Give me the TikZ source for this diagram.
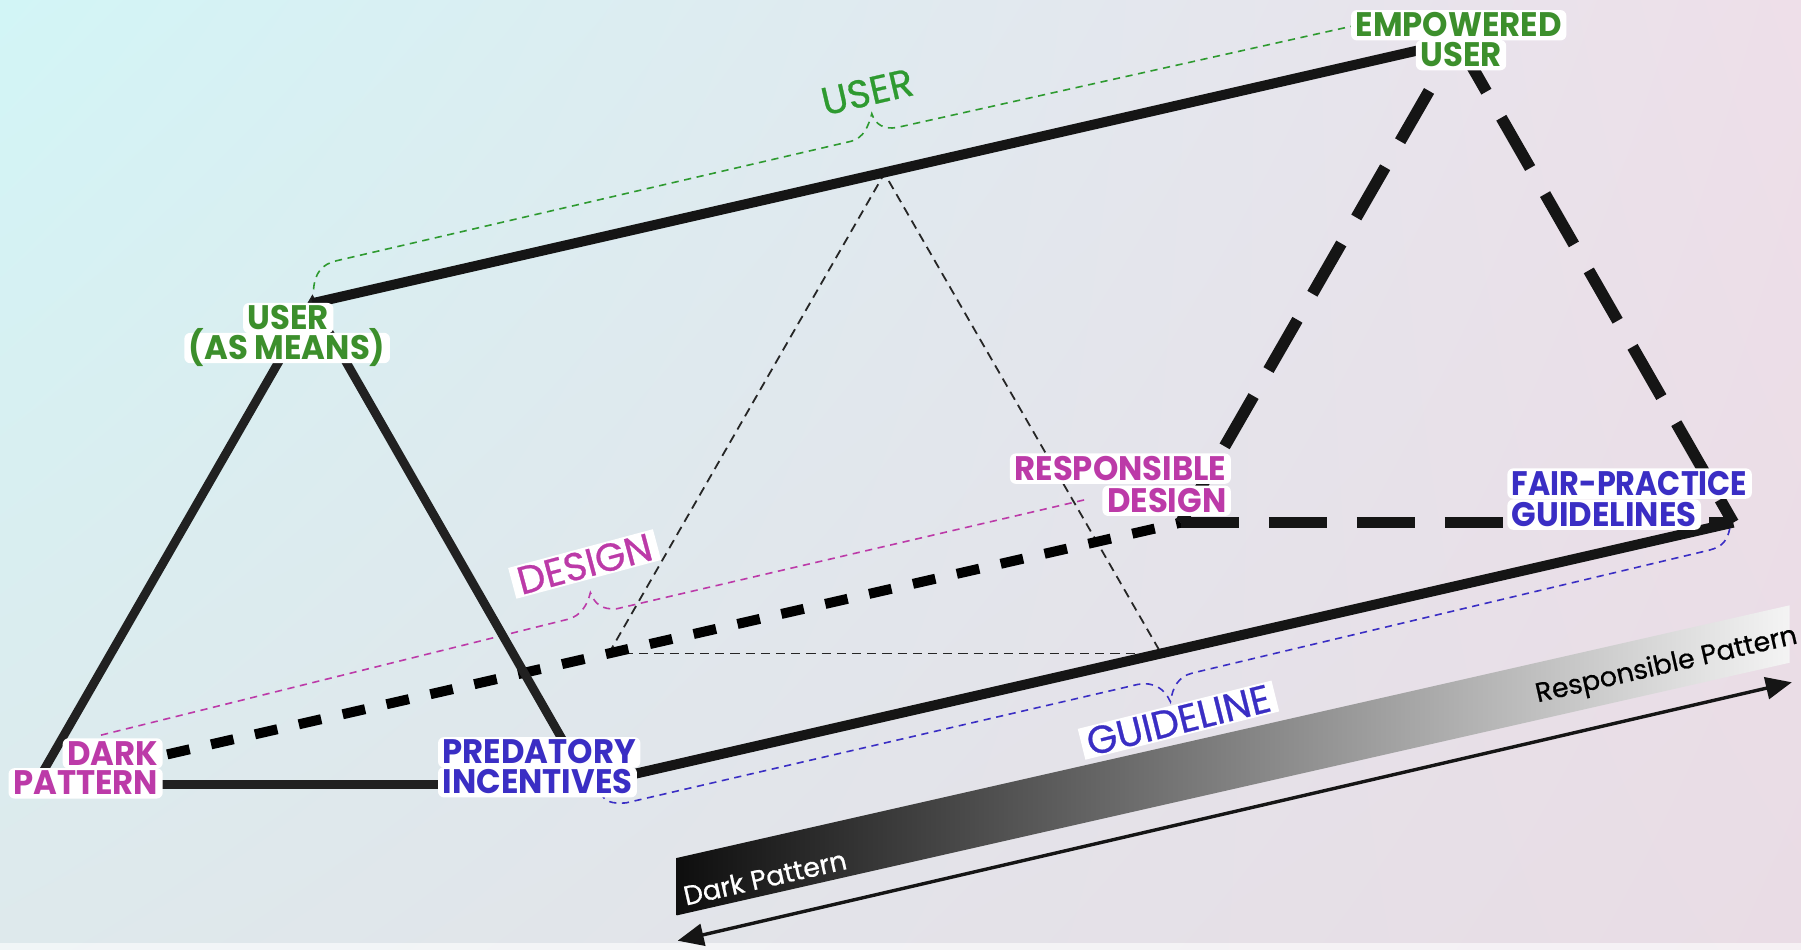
\documentclass[tikz,border=0pt]{standalone}
\usepackage{fontspec}
\usepackage{graphicx}
\usetikzlibrary{arrows.meta,shadings}
\newfontfamily\labfont{Poppins}
\newfontfamily\medfont{Poppins}[FakeBold=0.7]
\newcommand{\lb}[1]{\scalebox{0.95}[1]{#1}}
\newcommand{\lbn}[1]{\scalebox{0.89}[1]{#1}}
\definecolor{bgUL}{HTML}{D2F5F6}
\definecolor{bgUR}{HTML}{EEDFE9}
\definecolor{bgLL}{HTML}{DEE9EC}
\definecolor{bgLR}{HTML}{E9DCE5}
\definecolor{edgeblack}{HTML}{151515}
\definecolor{ugreen}{HTML}{3C8F2C}
\definecolor{lgreen}{HTML}{2E9A30}
\definecolor{umag}{HTML}{BC3AA8}
\definecolor{ublue}{HTML}{3A2EC4}
\definecolor{barblack}{HTML}{0E0E0E}
\definecolor{barwhite}{HTML}{F4F4F4}
\tikzset{
  sticker/.style={fill=white, rounded corners=3pt, inner xsep=2.3pt, inner ysep=1.2pt,
    text height=12.2pt, text depth=0.6pt,
    font=\labfont\bfseries\fontsize{17}{17}\selectfont},
  rlabel/.style={font=\medfont\fontsize{19.5}{19.5}\selectfont, inner xsep=3pt, inner ysep=1pt},
  bartext/.style={font=\medfont\fontsize{13.5}{13.5}\selectfont, rotate=12.8, inner sep=0pt},
  solidedge/.style={line width=5pt, draw=edgeblack},
  legedge/.style={line width=4.4pt, draw=edgeblack!95!white},
  fatdash/.style={line width=5pt, draw=black, dash pattern=on 11.5pt off 11pt},
  longdash/.style={line width=5.8pt, draw=edgeblack, dash pattern=on 29pt off 15pt},
  thindash/.style={line width=0.9pt, draw=black!85, dash pattern=on 4.6pt off 3pt},
  brace/.style={line width=0.8pt, dash pattern=on 3.6pt off 2.8pt, line cap=butt},
}
\begin{document}
\begin{tikzpicture}[x=0.5743pt,y=-0.5743pt]
\useasboundingbox (0,0) rectangle (1568,827);
% background
\shade[upper left=bgUL, upper right=bgUR, lower left=bgLL, lower right=bgLR] (0,0) rectangle (1568,827);
\fill[white, opacity=0.6] (0,821) rectangle (1568,827);

% prism vertices
\coordinate (UA) at (272,264);
\coordinate (DP) at (31,683);
\coordinate (PI) at (512,683);
\coordinate (EU) at (1269,36);
\coordinate (RD) at (1028,455);
\coordinate (FG) at (1509,455);
\coordinate (MT) at (770,151);
\coordinate (MB) at (530,569);
\coordinate (MR) at (1011,569);

% braces
\draw[brace, draw=lgreen] (273,252) .. controls (274,238) and (280,230) .. (293,227)
  -- (741,123) .. controls (752,120) and (756,110) .. (759,99)
  .. controls (762,108) and (769,113) .. (781,111) -- (1185,21);
\draw[brace, draw=umag] (88,640) -- (495,539) .. controls (505,536) and (511,528) .. (514,516)
  .. controls (518,526) and (524,531) .. (537,530) -- (945,435);
\draw[brace, draw=ublue] (523,690) .. controls (526,698) and (533,700) .. (545,699)
  -- (990,596) .. controls (1005,593) and (1014,600) .. (1019,611)
  .. controls (1021,598) and (1026,589) .. (1038,586) -- (1488,479)
  .. controls (1500,476) and (1504,470) .. (1506,460);

% middle cross-section (thin dashed)
\draw[thindash] (MB) -- (MT) -- (MR);
\draw[thindash] (MB) -- (MR);

% dashed prism parts
\draw[fatdash] (DP) -- (RD);
\draw[longdash] (RD) -- (EU);
\draw[longdash] (EU) -- (FG);
\draw[longdash] (RD) -- (FG);

% solid prism parts
\draw[legedge] (DP) -- (UA) -- (PI);
\draw[legedge] (DP) -- (PI);
\draw[solidedge] (UA) -- (EU);
\draw[solidedge] (PI) -- (FG);

% gradient bar
\coordinate (b1) at (589,747);
\coordinate (b2) at (589,797);
\coordinate (b3) at (1558,577);
\coordinate (b4) at (1558,527);
\shade[left color=barblack, right color=barwhite] (b1) -- (b2) -- (b3) -- (b4) -- cycle;
\node[bartext, text=white] (dpt) at (666,764) {Dark Pattern};
\node[bartext, text=black] (rpt) at (1451,580) {Responsible Pattern};

% double arrow
\coordinate (al) at (590,819);
\coordinate (ar) at (1560,594);
\draw[line width=1.7pt, draw=edgeblack, {Triangle[length=13pt,width=11pt]}-{Triangle[length=13pt,width=11pt]}] (al) -- (ar);

% rotated labels
\node[rlabel, text=lgreen, rotate=13] (luser) at (755,80) {USER};
\node[rlabel, text=umag, fill=white, rotate=15] (ldesign) at (509,491) {DESIGN};
\node[rlabel, text=ublue, fill=white, rotate=14] (lguide) at (1026,627) {GUIDELINE};

% vertex labels
\node[sticker, text=ugreen] (ua1) at (251,277) {\lb{USER}};
\node[sticker, text=ugreen] (ua2) at (250,303) {\lb{(AS MEANS)}};
\node[sticker, text=ugreen] (eu1) at (1270,22) {\lb{EMPOWERED}};
\node[sticker, text=ugreen] (eu2) at (1272,48) {\lb{USER}};
\node[sticker, text=umag, anchor=east] (dp1) at (142,656) {\lb{DARK}};
\node[sticker, text=umag, anchor=east] (dp2) at (142,682) {\lb{PATTERN}};
\node[sticker, text=ublue, anchor=west] (pi1) at (381,655) {\lb{PREDATORY}};
\node[sticker, text=ublue, anchor=west] (pi2) at (381,681) {\lb{INCENTIVES}};
\node[sticker, text=umag, anchor=east] (rd1) at (1072,408) {\lb{RESPONSIBLE}};
\node[sticker, text=umag, anchor=east] (rd2) at (1072,436) {\lb{DESIGN}};
\node[sticker, text=ublue, anchor=west] (fg1) at (1312,421) {\lbn{FAIR-PRACTICE}};
\node[sticker, text=ublue, anchor=west] (fg2) at (1312,448) {\lb{GUIDELINES}};
\end{tikzpicture}
\end{document}
